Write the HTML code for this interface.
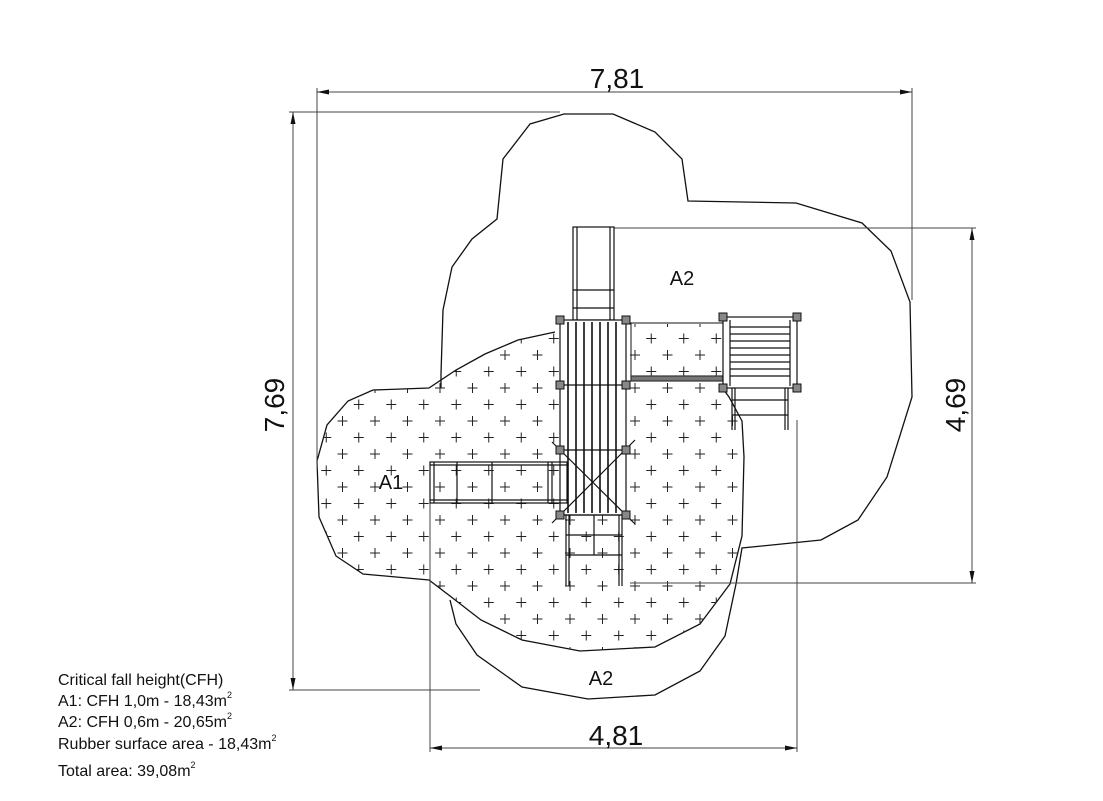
<!DOCTYPE html>
<html><head><meta charset="utf-8"><style>
html,body{margin:0;padding:0;background:#fff;}
svg{display:block;font-family:"Liberation Sans",sans-serif;}
</style></head><body>
<svg width="1103" height="801" viewBox="0 0 1103 801" xmlns="http://www.w3.org/2000/svg">
<defs>
<pattern id="pl" x="440" y="388" width="32.5" height="33" patternUnits="userSpaceOnUse">
<path d="M-5 0H5M0 -5V5 M27.5 0H37.5M32.5 -5V5 M-5 33H5M0 28V38 M27.5 33H37.5M32.5 28V38 M11.25 16.5H21.25M16.25 11.5V21.5" stroke="#222" stroke-width="1" fill="none"/>
</pattern>
<clipPath id="a1c"><path id="a1p" d="M555,332 L518,340 L485,354 L456,370 L429,388 L373,390 L348,401 L327,425 L317,461 L319,517 L336,556 L363,574 L429,580 L450,596 L481,620 L522,640 L580,651 L655,647 L700,624 L730,584 L742,536 L744,457 L742,421 L729,397 L721,386 L723,324 L631,324 Z"/></clipPath>
</defs>
<!-- outer A2 -->
<path d="M441,388 L441,374 L443,310 L452,267 L472,239 L497,219 L503,159 L530,124 L564,114 L613,114 L655,132 L682,159 L688,201 L796,203 L862,223 L891,251 L910,302 L912,397 L887,477 L858,520 L821,540 L742,548 L736,584 L725,636 L700,671 L655,695 L588,699 L522,687 L477,655 L456,624 L450,600" fill="none" stroke="#111" stroke-width="1.3"/>
<!-- A1 -->
<path d="M555,332 L518,340 L485,354 L456,370 L429,388 L373,390 L348,401 L327,425 L317,461 L319,517 L336,556 L363,574 L429,580 L450,596 L481,620 L522,640 L580,651 L655,647 L700,624 L730,584 L742,536 L744,457 L742,421 L729,397 L721,386" fill="none" stroke="#111" stroke-width="1.3"/>
<rect x="300" y="300" width="460" height="380" fill="url(#pl)" clip-path="url(#a1c)"/>
<!-- dimension lines -->
<g stroke="#444" stroke-width="1" fill="none">
<path d="M317,92H912 M317,88V470 M912,88V300"/>
<path d="M293,112V690 M289,112H560 M289,690H480"/>
<path d="M972,228V583 M580,228H976 M630,583H976"/>
<path d="M430,748H797 M430,465V752 M797,420V752"/>
</g>
<g fill="#111">
<path d="M317,92l12,-2.5v5z M912,92l-12,-2.5v5z"/>
<path d="M293,112l-2.5,12h5z M293,690l-2.5,-12h5z"/>
<path d="M972,228l-2.5,12h5z M972,583l-2.5,-12h5z"/>
<path d="M430,748l12,-2.5v5z M797,748l-12,-2.5v5z"/>
</g>
<!-- structure -->
<g stroke="#111" fill="#fff" stroke-width="1.2">
<!-- top slide -->
<rect x="573" y="227" width="41" height="93"/>
<path d="M577,227V320 M610,227V320 M573,290H614 M573,308H614" fill="none"/>
<!-- bridge -->
<rect x="631" y="323" width="92" height="57" fill="none" stroke-width="1"/>
<rect x="631" y="376" width="92" height="5" fill="#777" stroke="#333"/>
<!-- tower -->
<rect x="560" y="320" width="66" height="195" fill="#fff"/>
</g>
<g stroke="#111" stroke-width="1.6">
<path d="M568,322V513 M576,322V513 M584,322V513 M592,322V513 M600,322V513 M608,322V513 M616,322V513"/>
</g>
<g stroke="#111" stroke-width="1.2" fill="none">
<path d="M560,385H626 M560,450H626 M560,515H626"/>
<path d="M552,442L635,524 M635,440L552,523"/>
<!-- ladder -->
<path d="M566,515V586 M569,515V586 M619,515V586 M622,515V586 M566,535H622 M566,555H622 M594,515V555"/>
</g>
<g fill="#888" stroke="#111" stroke-width="1">
<rect x="556" y="316" width="8" height="8"/><rect x="622" y="316" width="8" height="8"/>
<rect x="556" y="381" width="8" height="8"/><rect x="622" y="381" width="8" height="8"/>
<rect x="556" y="446" width="8" height="8"/><rect x="622" y="446" width="8" height="8"/>
<rect x="556" y="511" width="8" height="8"/><rect x="622" y="511" width="8" height="8"/>
</g>
<!-- left slide -->
<g stroke="#111" stroke-width="1.2" fill="#fff">
<rect x="430" y="462" width="137" height="41" fill="none"/>
<path d="M434,462V503 M457,462V503 M492,462V503 M548,462V503 M552,462V503 M430,465H567 M430,500H567" fill="none"/>
</g>
<!-- right deck -->
<g stroke="#111" stroke-width="1.2" fill="#fff">
<rect x="723" y="317" width="74" height="71"/>
<path d="M730,320V386 M790,320V386" fill="none"/>
<path d="M730,327H790 M730,334H790 M730,341H790 M730,348H790 M730,355H790 M730,362H790 M730,369H790 M730,376H790" fill="none"/>
<path d="M732,388V430 M735,388V430 M785,388V430 M788,388V430 M732,400H788 M732,415H788" fill="none"/>
</g>
<g fill="#888" stroke="#111" stroke-width="1">
<rect x="719" y="313" width="8" height="8"/><rect x="793" y="313" width="8" height="8"/>
<rect x="719" y="384" width="8" height="8"/><rect x="793" y="384" width="8" height="8"/>
</g>
<!-- labels -->
<g fill="#111">
<text x="617" y="88" font-size="28" text-anchor="middle">7,81</text>
<text x="616" y="745" font-size="28" text-anchor="middle">4,81</text>
<text transform="translate(284,405) rotate(-90)" font-size="28" text-anchor="middle">7,69</text>
<text transform="translate(965,405) rotate(-90)" font-size="28" text-anchor="middle">4,69</text>
<text x="682" y="285" font-size="20" text-anchor="middle">A2</text>
<text x="601" y="685" font-size="20" text-anchor="middle">A2</text>
<text x="391" y="489" font-size="20" text-anchor="middle">A1</text>
<g font-size="16">
<text x="58" y="685">Critical fall height(CFH)</text>
<text x="58" y="706">A1: CFH 1,0m - 18,43m<tspan font-size="9" dy="-8">2</tspan></text>
<text x="58" y="727">A2: CFH 0,6m - 20,65m<tspan font-size="9" dy="-8">2</tspan></text>
<text x="58" y="749">Rubber surface area - 18,43m<tspan font-size="9" dy="-8">2</tspan></text>
<text x="58" y="776">Total area: 39,08m<tspan font-size="9" dy="-8">2</tspan></text>
</g>
</g>
</svg>
</body></html>
